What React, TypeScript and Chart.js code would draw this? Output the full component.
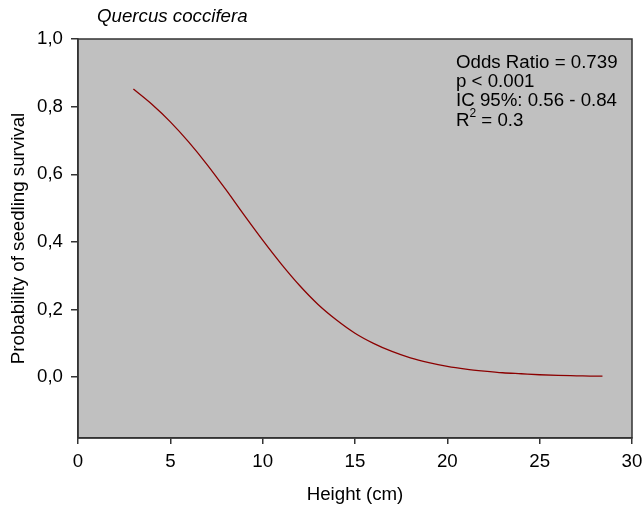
import React, { useEffect, useRef } from "react";
import { Chart, registerables } from "chart.js";

Chart.register(...registerables);

// Data
const heights: number[] = [3, 4, 5, 6, 7, 8, 9, 10, 11, 12, 13, 14, 15, 16, 17, 18, 19, 20, 21, 22, 23, 24, 25, 26, 27, 28, 28.4];
const survival: number[] = [0.852, 0.807, 0.755, 0.695, 0.628, 0.555, 0.479, 0.405, 0.335, 0.271, 0.215, 0.169, 0.130, 0.100, 0.076, 0.057, 0.043, 0.032, 0.024, 0.018, 0.013, 0.010, 0.007, 0.005, 0.004, 0.003, 0.003];
const yTickValues: number[] = [0, 0.2, 0.4, 0.6, 0.8, 1.0];
const xTickValues: number[] = [0, 5, 10, 15, 20, 25, 30];
const titleText = "Quercus coccifera";
const statLines: string[] = ["Odds Ratio = 0.739", "p < 0.001", "IC 95%: 0.56 - 0.84"];
const r2Value = "0.3";

const FONT = '"Liberation Sans", Arial, sans-serif';
const FS = 18.7;
const AXIS_COLOR = "#333333";

const decorPlugin = {
  id: "decor",
  beforeDraw(chart: any) {
    const { ctx, chartArea } = chart;
    ctx.save();
    ctx.fillStyle = "#c0c0c0";
    ctx.fillRect(chartArea.left, chartArea.top, chartArea.right - chartArea.left, chartArea.bottom - chartArea.top);
    ctx.restore();
  },
  afterDraw(chart: any) {
    const { ctx, chartArea } = chart;
    ctx.save();
    ctx.strokeStyle = AXIS_COLOR;
    ctx.lineWidth = 1.5;
    ctx.strokeRect(chartArea.left, chartArea.top, chartArea.right - chartArea.left, chartArea.bottom - chartArea.top);

    // title
    ctx.fillStyle = "#000";
    ctx.textBaseline = "middle";
    ctx.textAlign = "left";
    ctx.font = `italic ${FS}px ${FONT}`;
    ctx.fillText(titleText, 97, 17);

    // statistics
    ctx.font = `${FS}px ${FONT}`;
    const x0 = 456;
    const ys = [63, 82, 101];
    statLines.forEach((t, i) => ctx.fillText(t, x0, ys[i]));
    const yR = 121;
    ctx.fillText("R", x0, yR);
    const wR = ctx.measureText("R").width;
    ctx.font = `12px ${FONT}`;
    ctx.fillText("2", x0 + wR, yR - 7);
    const w2 = ctx.measureText("2").width;
    ctx.font = `${FS}px ${FONT}`;
    ctx.fillText(" = " + r2Value, x0 + wR + w2, yR);
    ctx.restore();
  },
};

export default function App() {
  const canvasRef = useRef<HTMLCanvasElement | null>(null);

  useEffect(() => {
    if (!canvasRef.current) return;
    const chart = new Chart(canvasRef.current, {
      type: "scatter",
      data: {
        datasets: [
          {
            data: heights.map((h, i) => ({ x: h, y: survival[i] })),
            showLine: true,
            borderColor: "#8b0000",
            borderWidth: 1.3,
            pointRadius: 0,
            cubicInterpolationMode: "monotone",
            fill: false,
          },
        ],
      },
      options: {
        animation: false,
        responsive: true,
        maintainAspectRatio: false,
        layout: { padding: { left: 0, right: 10, top: 39, bottom: 0 } },
        plugins: {
          legend: { display: false },
          tooltip: { enabled: false },
          title: { display: false },
        },
        scales: {
          x: {
            type: "linear",
            min: 0,
            max: 30,
            afterBuildTicks: (scale: any) => {
              scale.ticks = xTickValues.map((v) => ({ value: v }));
            },
            afterFit: (scale: any) => {
              scale.height = 69;
              scale.paddingLeft = 0;
              scale.paddingRight = 0;
            },
            grid: { drawOnChartArea: false, drawTicks: true, tickLength: 6, color: AXIS_COLOR, lineWidth: 1.5 },
            border: { display: true, color: AXIS_COLOR, width: 1.5 },
            ticks: { color: "#000", font: { family: FONT, size: FS }, padding: 7, maxRotation: 0, autoSkip: false },
            title: { display: true, text: "Height (cm)", color: "#000", font: { family: FONT, size: FS }, padding: { top: 0, bottom: 1 } },
          },
          y: {
            type: "linear",
            min: -0.18,
            max: 1.0,
            afterBuildTicks: (scale: any) => {
              scale.ticks = yTickValues.map((v) => ({ value: v }));
            },
            afterFit: (scale: any) => {
              scale.width = 78;
              scale.paddingTop = 0;
              scale.paddingBottom = 0;
            },
            grid: { drawOnChartArea: false, drawTicks: true, tickLength: 7, color: AXIS_COLOR, lineWidth: 1.5 },
            border: { display: true, color: AXIS_COLOR, width: 1.5 },
            ticks: {
              color: "#000",
              font: { family: FONT, size: FS },
              padding: 8,
              autoSkip: false,
              callback: (v: any) => Number(v).toFixed(1).replace(".", ","),
            },
            title: { display: true, text: "Probability of seedling survival", color: "#000", font: { family: FONT, size: FS }, padding: { top: 8, bottom: 0 } },
          },
        },
      },
      plugins: [decorPlugin],
    } as any);
    return () => chart.destroy();
  }, []);

  return (
    <div style={{ position: "fixed", left: 0, top: 0, width: 642, height: 507 }}>
      <canvas ref={canvasRef} />
    </div>
  );
}
